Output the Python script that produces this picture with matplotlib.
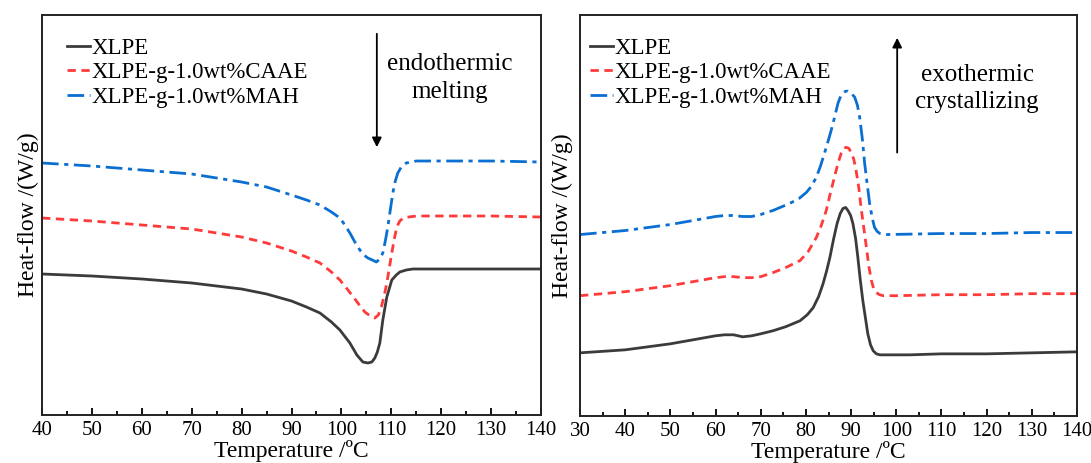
import matplotlib
matplotlib.use("Agg")
import matplotlib.pyplot as plt
from matplotlib.ticker import MultipleLocator

plt.rcParams['font.family'] = ['Liberation Serif', 'DejaVu Serif']

# ---------- Data (heat flow in arbitrary units) ----------
# Left panel: melting (heating)
melt_T_xlpe = [40, 50, 60, 70, 80, 85, 90, 93, 95.7, 98, 99.7, 101.7, 103.1, 104.3, 105.3, 106.1, 106.7, 107.2, 107.7, 108.3, 109.1, 110.1, 111.0, 111.7, 113, 114.3, 120, 130, 140]
melt_xlpe = [1.41, 1.39, 1.36, 1.32, 1.26, 1.21, 1.14, 1.08, 1.02, 0.93, 0.85, 0.72, 0.60, 0.53, 0.52, 0.53, 0.57, 0.63, 0.72, 0.95, 1.18, 1.35, 1.40, 1.43, 1.45, 1.46, 1.46, 1.46, 1.46]
melt_T_caae = [40, 50, 60, 70, 80, 85, 90, 93, 95.7, 98, 99.7, 101, 102.4, 103.6, 104.7, 105.8, 106.7, 107.4, 108, 108.6, 109.1, 109.6, 110.1, 110.6, 111.1, 111.7, 112.4, 113.5, 115.1, 120, 130, 140]
melt_caae = [1.97, 1.94, 1.90, 1.86, 1.78, 1.72, 1.64, 1.58, 1.52, 1.43, 1.35, 1.27, 1.18, 1.10, 1.03, 0.99, 0.97, 1.00, 1.08, 1.20, 1.32, 1.47, 1.62, 1.76, 1.88, 1.94, 1.97, 1.98, 1.99, 1.99, 1.99, 1.98]
melt_T_mah = [40, 50, 60, 70, 80, 85, 90, 93, 95.7, 98, 99.7, 100.7, 101.7, 102.7, 103.7, 104.5, 105.3, 106.2, 107, 107.7, 108.3, 108.8, 109.3, 109.8, 110.3, 110.8, 111.3, 112, 113, 115, 120, 130, 140]
melt_mah = [2.52, 2.49, 2.45, 2.41, 2.33, 2.28, 2.20, 2.15, 2.10, 2.03, 1.97, 1.90, 1.82, 1.73, 1.65, 1.60, 1.57, 1.55, 1.53, 1.56, 1.62, 1.74, 1.88, 2.05, 2.22, 2.34, 2.42, 2.48, 2.52, 2.54, 2.54, 2.54, 2.53]

# Right panel: crystallization (cooling)
cry_T_xlpe = [30, 40, 50, 55, 60, 62, 64, 66, 68, 70, 72.7, 75.5, 78.7, 80.3, 81.6, 82.8, 83.8, 84.6, 85.3, 86.1, 86.9, 87.6, 88.2, 88.8, 89.3, 89.9, 90.4, 91.0, 91.5, 92.0, 92.6, 93.2, 93.7, 94.3, 94.9, 95.6, 96.4, 98, 103, 110, 120, 130, 140]
cry_xlpe = [0.63, 0.66, 0.72, 0.76, 0.80, 0.81, 0.81, 0.79, 0.80, 0.82, 0.85, 0.89, 0.95, 1.01, 1.08, 1.19, 1.32, 1.45, 1.58, 1.76, 1.92, 2.02, 2.07, 2.08, 2.05, 2.00, 1.92, 1.77, 1.58, 1.37, 1.15, 0.97, 0.82, 0.71, 0.65, 0.62, 0.61, 0.61, 0.61, 0.62, 0.62, 0.63, 0.64]
cry_T_caae = [30, 40, 50, 55, 60, 62, 64, 66, 68, 70, 72.7, 75.5, 78.7, 80.5, 82.3, 83.4, 84.5, 85.4, 86.3, 87.1, 87.8, 88.4, 88.9, 89.5, 90.0, 90.6, 91.1, 91.7, 92.2, 92.8, 93.4, 93.9, 94.5, 95.0, 95.6, 96.3, 97.1, 100, 110, 120, 130, 140]
cry_caae = [1.20, 1.24, 1.30, 1.34, 1.38, 1.39, 1.39, 1.38, 1.38, 1.39, 1.43, 1.48, 1.55, 1.64, 1.78, 1.90, 2.05, 2.22, 2.38, 2.52, 2.62, 2.67, 2.68, 2.67, 2.63, 2.56, 2.45, 2.28, 2.08, 1.88, 1.68, 1.50, 1.35, 1.27, 1.23, 1.21, 1.20, 1.20, 1.21, 1.21, 1.22, 1.22]
cry_T_mah = [30, 40, 50, 55, 60, 62, 64, 66, 68, 70, 72.7, 76.4, 78.5, 80.1, 81.2, 82.3, 83.2, 84.1, 84.9, 85.6, 86.4, 87.1, 87.7, 88.2, 88.8, 89.3, 90.0, 90.8, 91.4, 91.9, 92.5, 93.0, 93.6, 94.1, 94.7, 95.2, 95.8, 96.4, 98, 110, 120, 130, 140]
cry_mah = [1.81, 1.85, 1.91, 1.95, 1.99, 2.00, 2.00, 1.99, 1.99, 2.01, 2.05, 2.12, 2.17, 2.23, 2.29, 2.38, 2.49, 2.62, 2.74, 2.85, 2.99, 3.12, 3.19, 3.22, 3.24, 3.24, 3.22, 3.18, 3.10, 2.98, 2.76, 2.52, 2.30, 2.12, 1.97, 1.88, 1.84, 1.82, 1.81, 1.82, 1.82, 1.83, 1.83]

labels = ['XLPE', 'XLPE-g-1.0wt%CAAE', 'XLPE-g-1.0wt%MAH']
colors = ['#3b3b3b', '#ff3a3a', '#0a6fd0']
styles = ['-', (0, (3, 2)), (0, (6, 2, 1.5, 2))]

fig = plt.figure(figsize=(10.91, 4.63), dpi=100)
axL = fig.add_axes([42/1091, 48/463, 499/1091, 400/463])
axR = fig.add_axes([580/1091, 47/463, 497/1091, 401/463])

def style_axis(ax, xmin, xmax, ypad):
    ax.set_xlim(xmin, xmax)
    ax.set_ylim(0, 4.0)
    ax.xaxis.set_major_locator(MultipleLocator(10))
    ax.xaxis.set_minor_locator(MultipleLocator(5))
    ax.tick_params(axis='x', which='major', direction='in', length=5, width=1.3, labelsize=15, pad=4)
    ax.tick_params(axis='x', which='minor', direction='in', length=3, width=1.3)
    ax.tick_params(axis='y', left=False, labelleft=False)
    for s in ax.spines.values():
        s.set_linewidth(1.4)
        s.set_color('#222222')
    ax.set_xlabel('Temperature /\u00baC', fontsize=17, labelpad=0)
    ax.set_ylabel('Heat-flow /(W/g)', fontsize=17, labelpad=ypad)

style_axis(axL, 40, 140, 2)
style_axis(axR, 30, 140, 5)

melt = [(melt_T_xlpe, melt_xlpe), (melt_T_caae, melt_caae), (melt_T_mah, melt_mah)]
for (T, y), lab, c, ls in zip(melt, labels, colors, styles):
    axL.plot(T, y, color=c, ls=ls, lw=2.0, label=lab, solid_joinstyle='round')

cry = [(cry_T_xlpe, cry_xlpe), (cry_T_caae, cry_caae), (cry_T_mah, cry_mah)]
for (T, y), lab, c, ls in zip(cry, labels, colors, styles):
    axR.plot(T, y, color=c, ls=ls, lw=2.0, label=lab, solid_joinstyle='round')

for ax, bx in ((axL, 0.023), (axR, -0.007)):
    ax.legend(loc='upper left', bbox_to_anchor=(bx, 0.978), frameon=False, fontsize=16.5,
              handlelength=1.0, handletextpad=0.05, labelspacing=0.15, borderaxespad=0.2)

axL.annotate('', xy=(107.1, 2.65), xytext=(107.1, 3.84),
             arrowprops=dict(arrowstyle='-|>', color='black', lw=1.3, mutation_scale=14))
axL.text(121.8, 3.37, 'endothermic\nmelting', ha='center', va='center', fontsize=18, linespacing=1.3)

axR.annotate('', xy=(100.2, 3.80), xytext=(100.2, 2.60),
             arrowprops=dict(arrowstyle='-|>', color='black', lw=1.3, mutation_scale=14))
axR.text(117.9, 3.27, 'exothermic\ncrystallizing', ha='center', va='center', fontsize=18, linespacing=1.3)

fig.savefig('out.png', dpi=100)
